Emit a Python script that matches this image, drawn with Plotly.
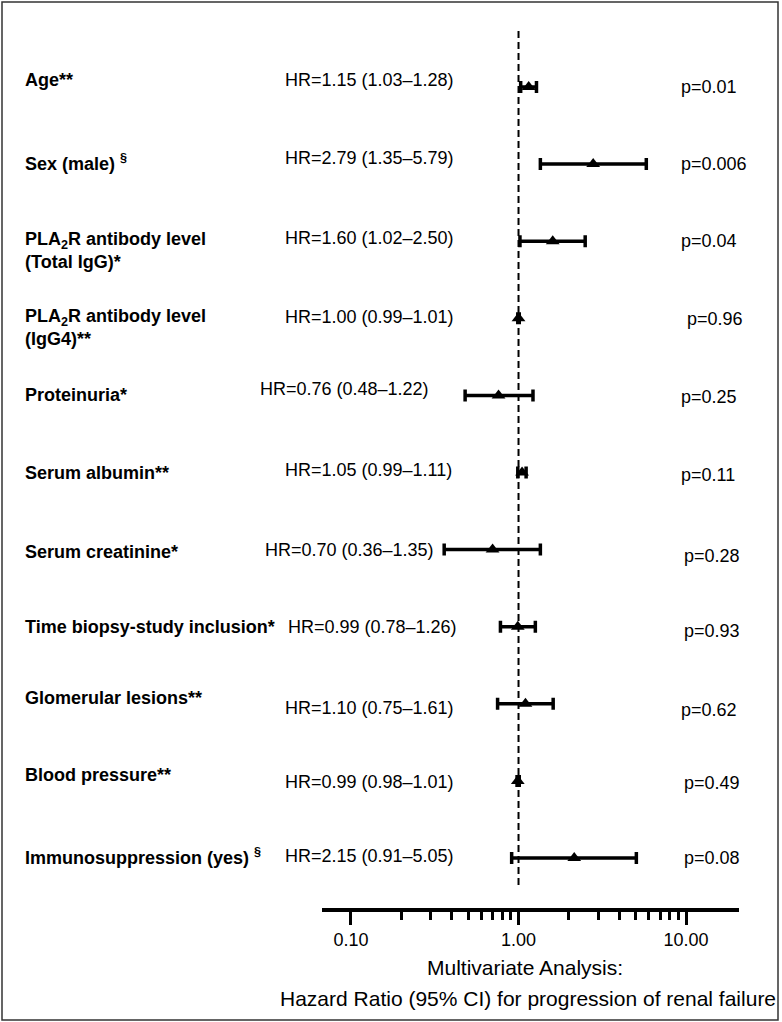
import plotly.graph_objects as go

# ---------------- data ----------------
labels = [
    "Age**",
    "Sex (male) <sup>§</sup>",
    "PLA<sub>2</sub>R antibody level<br>(Total IgG)*",
    "PLA<sub>2</sub>R antibody level<br>(IgG4)**",
    "Proteinuria*",
    "Serum albumin**",
    "Serum creatinine*",
    "Time biopsy-study inclusion*",
    "Glomerular lesions**",
    "Blood pressure**",
    "Immunosuppression (yes) <sup>§</sup>",
]
hr = [1.15, 2.79, 1.60, 1.00, 0.76, 1.05, 0.70, 0.99, 1.10, 0.99, 2.15]
ci_low = [1.03, 1.35, 1.02, 0.99, 0.48, 0.99, 0.36, 0.78, 0.75, 0.98, 0.91]
ci_high = [1.28, 5.79, 2.50, 1.01, 1.22, 1.11, 1.35, 1.26, 1.61, 1.01, 5.05]
p_values = ["0.01", "0.006", "0.04", "0.96", "0.25", "0.11", "0.28", "0.93", "0.62", "0.49", "0.08"]
major_ticks = [0.1, 1, 10]
major_tick_text = ["0.10", "1.00", "10.00"]
minor_ticks = [0.2, 0.3, 0.4, 0.5, 0.6, 0.7, 0.8, 0.9, 2, 3, 4, 5, 6, 7, 8, 9]
x_title_1 = "Multivariate Analysis:"
x_title_2 = "Hazard Ratio (95% CI) for progression of renal failure"

rows = list(range(len(labels)))
hr_text = [f"HR={h:.2f} ({l:.2f}\u2013{u:.2f})" for h, l, u in zip(hr, ci_low, ci_high)]

# ---------------- layout helpers ----------------
W, H = 782, 1022
L, R, T, B = 322, 43, 5, 114
PW, PH = W - L - R, H - T - B
FONT = "Liberation Sans, Arial, sans-serif"
FS = 18
FS_TITLE = 21


def px_x(px):
    return (px - L) / PW


def px_y(py):
    return (H - B - py) / PH


# small per-row text nudges (pixels) to mimic the original hand-placed text
label_dy = [-7, -2, 9, 9, 0, 0, 2, 0, -6, -6, -2]
hr_x = [283, 283, 283, 283, 258, 283, 263, 286, 283, 283, 283]
hr_dy = [-7, -6, -3, -1, -6, -3, 0, 0, 4, 1, -2]
p_x = [679, 679, 679, 685, 679, 679, 682, 682, 679, 682, 682]
p_dy = [0, 0, 0, 1, 2, 2, 6, 4, 6, 2, 0]

fig = go.Figure()

fig.add_trace(go.Scatter(
    x=hr, y=rows, mode="markers",
    marker=dict(symbol="triangle-up", size=12, color="black"),
    error_x=dict(type="data", symmetric=False,
                 array=[u - h for u, h in zip(ci_high, hr)],
                 arrayminus=[h - l for h, l in zip(hr, ci_low)],
                 color="black", thickness=3.5, width=6),
    showlegend=False, hoverinfo="skip",
))

annotations = []
for i in rows:
    annotations.append(dict(
        x=px_x(23), xref="paper", y=rows[i], yref="y", yshift=-label_dy[i],
        text=f"<b>{labels[i]}</b>", showarrow=False, xanchor="left", yanchor="middle",
        align="left", font=dict(family=FONT, size=FS, color="black"),
    ))
    annotations.append(dict(
        x=px_x(hr_x[i]), xref="paper", y=rows[i], yref="y", yshift=-hr_dy[i],
        text=hr_text[i], showarrow=False, xanchor="left", yanchor="middle",
        font=dict(family=FONT, size=FS, color="black"),
    ))
    annotations.append(dict(
        x=px_x(p_x[i]), xref="paper", y=rows[i], yref="y", yshift=-p_dy[i],
        text=f"p={p_values[i]}", showarrow=False, xanchor="left", yanchor="middle",
        font=dict(family=FONT, size=FS, color="black"),
    ))

annotations.append(dict(x=px_x(525), xref="paper", y=px_y(967), yref="paper",
                        text=x_title_1, showarrow=False, xanchor="center", yanchor="middle",
                        font=dict(family=FONT, size=FS_TITLE, color="black")))
annotations.append(dict(x=px_x(528), xref="paper", y=px_y(998), yref="paper",
                        text=x_title_2, showarrow=False, xanchor="center", yanchor="middle",
                        font=dict(family=FONT, size=FS_TITLE, color="black")))

row_px = (858 - 87) / 10.0
y_top = (T - 87) / row_px
y_bot = (H - B - 87) / row_px

shapes = [
    dict(type="line", xref="x", yref="y", x0=1, x1=1,
         y0=(31 - 87) / row_px, y1=(885 - 87) / row_px,
         line=dict(color="black", width=2, dash="7px,4px")),
    dict(type="rect", xref="paper", yref="paper",
         x0=px_x(2), x1=px_x(778), y0=px_y(1020), y1=px_y(2),
         line=dict(color="#333333", width=1.5)),
]

fig.update_layout(
    width=W, height=H,
    margin=dict(l=L, r=R, t=T, b=B),
    paper_bgcolor="white", plot_bgcolor="white",
    font=dict(family=FONT, size=FS, color="black"),
    annotations=annotations, shapes=shapes,
    xaxis=dict(
        type="log", range=[-1.173, 1.316],
        showline=True, linecolor="black", linewidth=3.5,
        showgrid=False, zeroline=False,
        ticks="outside", ticklen=13, tickwidth=3, tickcolor="black",
        tickvals=major_ticks, ticktext=major_tick_text,
        tickfont=dict(family=FONT, size=FS, color="black"),
        minor=dict(tickvals=minor_ticks, ticks="outside", ticklen=8,
                   tickwidth=3, tickcolor="black", showgrid=False),
    ),
    yaxis=dict(visible=False, range=[y_bot, y_top]),
)

fig.write_html(
    "out.html",
    config={"displayModeBar": False},
    post_script="document.body.style.margin='0';document.body.style.overflow='hidden';",
)
